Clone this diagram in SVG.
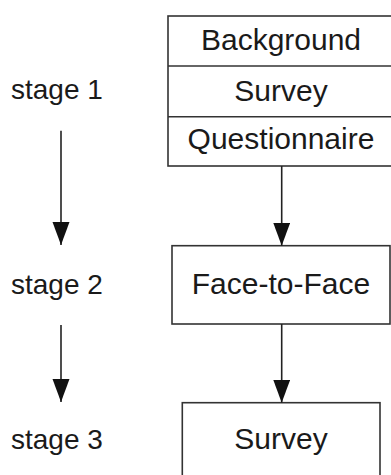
<svg xmlns="http://www.w3.org/2000/svg" width="391" height="475" viewBox="0 0 391 475">
<style>
.box{fill:#fff;stroke:#333;stroke-width:1.6}
.t{font-family:"Liberation Sans",Arial,sans-serif;font-size:28px;fill:#1a1a1a}
.c{text-anchor:middle;font-size:30px}
.ln{stroke:#222;stroke-width:1.6;fill:none;marker-end:url(#ah)}
</style>
<defs>
<marker id="ah" markerUnits="userSpaceOnUse" markerWidth="24" markerHeight="18" refX="23" refY="8.5" orient="auto" viewBox="0 0 24 18">
<path d="M0,0 L23,8.5 L0,17 Z" fill="#111"/>
</marker>
</defs>
<g id="stage1"><text class="t" x="11" y="99">stage 1</text></g>
<g id="stage2"><text class="t" x="11" y="294">stage 2</text></g>
<g id="stage3"><text class="t" x="11" y="449">stage 3</text></g>
<g id="stage1box">
<rect class="box" x="168" y="16" width="226" height="150"/>
<line x1="168" y1="66" x2="394" y2="66" stroke="#333" stroke-width="1.6"/>
<line x1="168" y1="116.7" x2="394" y2="116.7" stroke="#333" stroke-width="1.6"/>
<text class="t c" x="281" y="50">Background</text>
<text class="t c" x="281" y="100.5">Survey</text>
<text class="t c" x="281" y="149">Questionnaire</text>
</g>
<g id="facetoface">
<rect class="box" x="172" y="245.7" width="218" height="78.3"/>
<text class="t c" x="281" y="294">Face-to-Face</text>
</g>
<g id="survey">
<rect class="box" x="182.3" y="402.7" width="197.7" height="80"/>
<text class="t c" x="281" y="449">Survey</text>
</g>
<g id="connectors">
<line class="ln" x1="61" y1="130.7" x2="61" y2="245"/>
<line class="ln" x1="61" y1="325" x2="61" y2="402"/>
<line class="ln" x1="281.7" y1="166" x2="281.7" y2="245.7"/>
<line class="ln" x1="281.7" y1="324" x2="281.7" y2="402.7"/>
</g>
</svg>
